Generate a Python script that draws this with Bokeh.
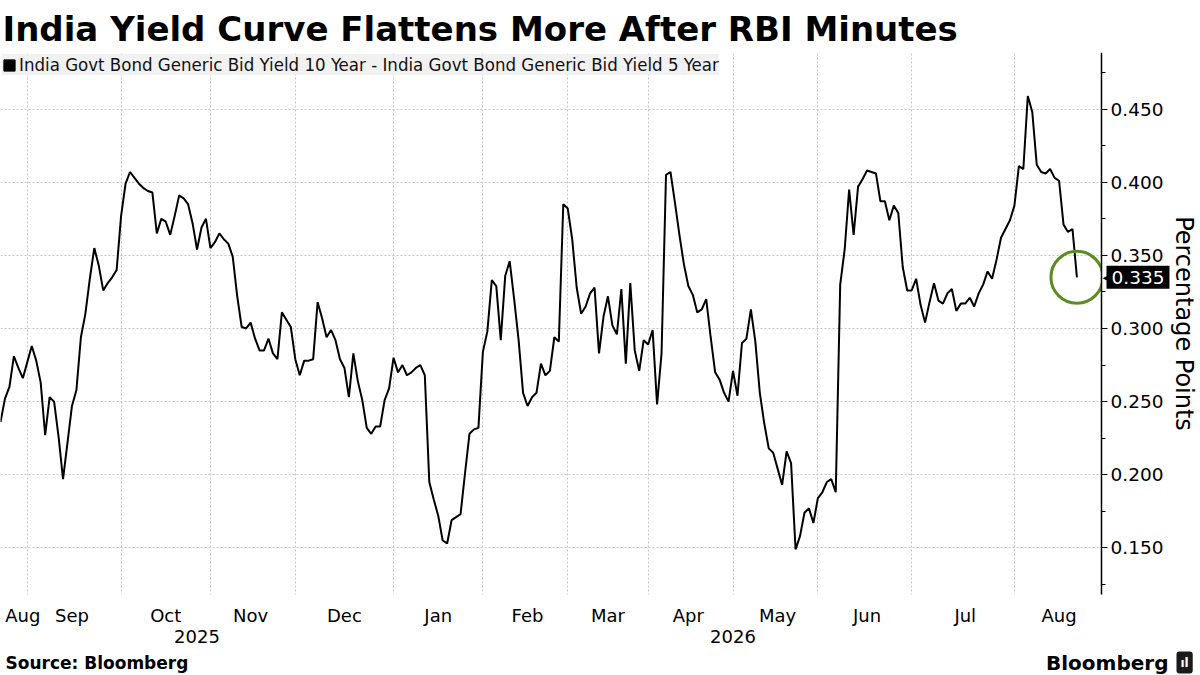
from bokeh.plotting import figure
from bokeh.models import (ColumnDataSource, Range1d, LinearAxis, FixedTicker,
                          SingleIntervalTicker, NumeralTickFormatter, Grid,
                          Legend, LegendItem, Label, BoxAnnotation)
from bokeh.embed import file_html
from bokeh.resources import INLINE

# --- data (one value per trading day) ---
spread = [
    0.236, 0.252, 0.260, 0.281, 0.273, 0.266, 0.277, 0.288, 0.278, 0.263,
    0.227, 0.253, 0.250, 0.226, 0.197, 0.222, 0.247, 0.258, 0.294, 0.310,
    0.334, 0.355, 0.343, 0.326, 0.331, 0.335, 0.340, 0.377, 0.399, 0.407,
    0.403, 0.399, 0.396, 0.394, 0.393, 0.365, 0.375, 0.373, 0.364, 0.377,
    0.391, 0.389, 0.385, 0.372, 0.354, 0.369, 0.375, 0.355, 0.359, 0.365,
    0.361, 0.358, 0.349, 0.322, 0.301, 0.300, 0.304, 0.293, 0.285, 0.285,
    0.293, 0.283, 0.279, 0.311, 0.306, 0.301, 0.279, 0.268, 0.278, 0.278,
    0.279, 0.318, 0.307, 0.294, 0.299, 0.292, 0.279, 0.273, 0.253, 0.283,
    0.264, 0.251, 0.232, 0.228, 0.233, 0.233, 0.251, 0.259, 0.280, 0.270,
    0.275, 0.268, 0.270, 0.273, 0.275, 0.268, 0.195, 0.183, 0.172, 0.155,
    0.153, 0.169, 0.171, 0.173, 0.201, 0.228, 0.231, 0.232, 0.284, 0.298,
    0.333, 0.329, 0.292, 0.336, 0.346, 0.320, 0.292, 0.256, 0.247, 0.253,
    0.256, 0.276, 0.268, 0.271, 0.294, 0.291, 0.385, 0.382, 0.361, 0.328,
    0.310, 0.315, 0.324, 0.328, 0.283, 0.308, 0.322, 0.302, 0.296, 0.327,
    0.276, 0.331, 0.285, 0.271, 0.292, 0.289, 0.299, 0.248, 0.283, 0.405,
    0.407, 0.386, 0.364, 0.344, 0.329, 0.323, 0.311, 0.313, 0.320, 0.294,
    0.270, 0.265, 0.256, 0.250, 0.271, 0.254, 0.290, 0.293, 0.313, 0.291,
    0.256, 0.235, 0.218, 0.215, 0.204, 0.193, 0.216, 0.208, 0.149, 0.158,
    0.174, 0.177, 0.167, 0.184, 0.188, 0.195, 0.197, 0.188, 0.330, 0.354,
    0.395, 0.364, 0.397, 0.402, 0.408, 0.407, 0.406, 0.387, 0.387, 0.374,
    0.384, 0.379, 0.342, 0.326, 0.326, 0.334, 0.316, 0.304, 0.318, 0.331,
    0.319, 0.317, 0.324, 0.327, 0.312, 0.317, 0.317, 0.321, 0.315, 0.324,
    0.330, 0.339, 0.334, 0.347, 0.362, 0.368, 0.374, 0.384, 0.411, 0.409,
    0.459, 0.448, 0.412, 0.407, 0.406, 0.409, 0.403, 0.401, 0.371, 0.366,
    0.368, 0.335,
]

# first trading day (index) of each month after the first one
month_names = ["Aug", "Sep", "Oct", "Nov", "Dec", "Jan", "Feb", "Mar",
               "Apr", "May", "Jun", "Jul", "Aug"]
month_edges = [6, 27, 47, 66, 88, 108, 127, 145, 164, 183, 204, 227]
year_names = ["2025", "2026"]
year_edges = [0, 88]

legend_text = ("India Govt Bond Generic Bid Yield 10 Year - "
               "India Govt Bond Generic Bid Yield 5 Year")

days = list(range(len(spread)))
last = len(spread) - 1

# ---- layout (pixels) ----
W, H = 1200, 675
TOP = 52            # height of title strip
AXIS_PX = 1101      # x pixel of the value axis
BOTTOM_PX = 594     # y pixel of the bottom of the chart area
y_lo, y_hi = 0.1181, 0.4887
x_axis = 246.5      # value axis sits here (in trading days)

x_stop = x_axis * W / AXIS_PX
per_px = (y_hi - y_lo) / (BOTTOM_PX - TOP)
y_start = y_lo - (H - BOTTOM_PX) * per_px

# centres of the month / year slots for the labels
bounds = [0] + month_edges + [x_axis]
month_pos = [int(round((bounds[k] + bounds[k + 1]) / 2)) for k in range(len(month_names))]
month_pos[0] = max(month_pos[0], 5)
ybounds = year_edges + [last]
year_pos = [int(round((ybounds[k] + ybounds[k + 1]) / 2)) for k in range(len(year_names))]

FONT = "DejaVu Sans"

p = figure(width=W, height=H, output_backend="svg", toolbar_location=None,
           x_range=Range1d(0, x_stop), y_range=Range1d(y_start, y_hi),
           x_axis_type=None, y_axis_type=None,
           min_border_left=0, min_border_right=0, min_border_top=TOP,
           min_border_bottom=0, outline_line_color=None)

p.title.text = "India Yield Curve Flattens More After RBI Minutes"
p.title.text_font = FONT
p.title.text_font_size = "34px"
p.title.text_font_style = "bold"
p.title.text_color = "black"
p.title.standoff = 8
p.title.offset = 2

# grid lines
p.add_layout(Grid(dimension=0, ticker=FixedTicker(ticks=month_edges),
                  grid_line_color="#c4c4c4", grid_line_dash="2 2"))
p.add_layout(Grid(dimension=1, ticker=SingleIntervalTicker(interval=0.05),
                  grid_line_color="#c4c4c4", grid_line_dash="2 2"))

# the spread line
src = ColumnDataSource(data={"day": days, "spread": spread})
p.line("day", "spread", source=src, line_color="black", line_width=2)

# highlight of the latest value
p.scatter([days[last]], [spread[last]], marker="circle", size=52,
          fill_color=None, line_color="#5b8c1f", line_width=3)

# blank out the margins (right of the axis, below the chart)
p.add_layout(BoxAnnotation(left=x_axis, fill_color="white", fill_alpha=1,
                           line_color=None, level="glyph"))
p.add_layout(BoxAnnotation(top=y_lo, fill_color="white", fill_alpha=1,
                           line_color=None, level="glyph"))

# right value axis
yaxis = LinearAxis(ticker=SingleIntervalTicker(interval=0.05, num_minor_ticks=2),
                   formatter=NumeralTickFormatter(format="0.000"),
                   axis_label="Percentage Points",
                   fixed_location=x_axis, bounds=(y_lo, y_hi))
yaxis.axis_line_width = 1.5
yaxis.major_tick_in = 0
yaxis.major_tick_out = 6
yaxis.minor_tick_in = 0
yaxis.minor_tick_out = 4
yaxis.major_label_standoff = 3
yaxis.major_label_text_font = FONT
yaxis.major_label_text_font_size = "18.5px"
yaxis.major_label_text_color = "black"
yaxis.axis_label_text_font = FONT
yaxis.axis_label_text_font_size = "24px"
yaxis.axis_label_text_font_style = "normal"
yaxis.axis_label_text_color = "black"
yaxis.axis_label_standoff = 4
p.add_layout(yaxis, "right")

# month and year labels below
maxis = LinearAxis(ticker=FixedTicker(ticks=month_pos), fixed_location=y_lo,
                   major_label_overrides={m: n for m, n in zip(month_pos, month_names)})
yr_axis = LinearAxis(ticker=FixedTicker(ticks=year_pos), fixed_location=y_lo - 24 * per_px,
                     major_label_overrides={m: n for m, n in zip(year_pos, year_names)})
for ax in (maxis, yr_axis):
    ax.axis_line_color = None
    ax.major_tick_line_color = None
    ax.minor_tick_line_color = None
    ax.major_label_text_font = FONT
    ax.major_label_text_font_size = "18px"
    ax.major_label_text_color = "black"
maxis.major_label_standoff = 4
yr_axis.major_label_standoff = 5
p.add_layout(maxis, "below")
p.add_layout(yr_axis, "below")

# legend with a square swatch (swatch quad sits off-screen)
swatch = p.quad(left=[-60], right=[-50], bottom=[0.2], top=[0.3], color="black")
legend = Legend(items=[LegendItem(label=legend_text, renderers=[swatch])],
                location="top_left")
legend.background_fill_color = "#efefef"
legend.background_fill_alpha = 0.85
legend.border_line_color = None
legend.label_text_font = "DejaVu Sans Condensed"
legend.label_text_font_size = "18.5px"
legend.label_text_color = "#111111"
legend.label_height = 21
legend.padding = 8
legend.margin = 2
legend.glyph_width = 14
legend.glyph_height = 14
legend.label_standoff = 3
p.add_layout(legend)

# last value tag on the axis
p.add_layout(Label(x=x_axis, y=spread[last], text="\u25c0", x_offset=1,
                   text_baseline="middle", text_font=FONT, text_font_size="14px",
                   text_color="black"))
p.add_layout(Label(x=x_axis, y=spread[last], text=f"{spread[last]:.3f}", x_offset=5,
                   text_baseline="middle", text_font=FONT, text_font_size="18.5px",
                   text_color="white", background_fill_color="black", padding=5))

# footer texts
p.add_layout(Label(x=5, y=13, x_units="screen", y_units="screen",
                   text="Source: Bloomberg", text_font=FONT, text_font_size="17px",
                   text_font_style="bold", text_baseline="middle", text_color="black"))
p.add_layout(Label(x=1168, y=13, x_units="screen", y_units="screen",
                   text="Bloomberg", text_font=FONT, text_font_size="20px",
                   text_font_style="bold", text_baseline="middle", text_align="right",
                   text_color="black"))
p.add_layout(Label(x=1176, y=13, x_units="screen", y_units="screen",
                   text="\u0131l", text_font=FONT, text_font_size="12px",
                   text_font_style="bold", text_baseline="middle", text_color="white",
                   background_fill_color="#1a1a1a", padding=4, border_radius=3))

open("out.html", "w").write(file_html(p, INLINE))
